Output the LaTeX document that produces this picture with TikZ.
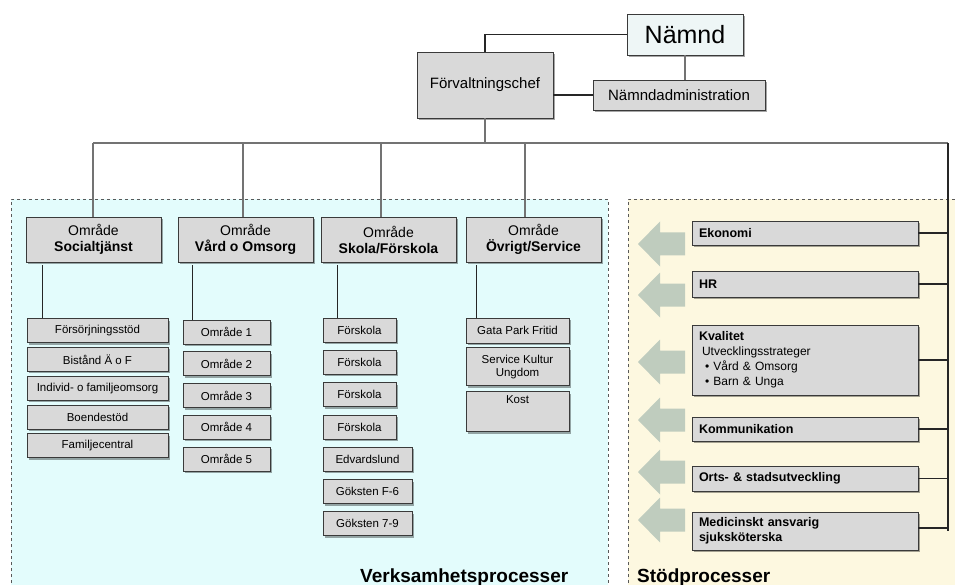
\documentclass[tikz,border=0pt]{standalone}
\usepackage{fontspec}
\setmainfont{Liberation Sans}
\usetikzlibrary{positioning,shadows}

\definecolor{boxgray}{HTML}{D9D9D9}
\definecolor{boxline}{HTML}{3A3A3A}
\definecolor{topfill}{HTML}{EEF6F6}
\definecolor{cyanbg}{HTML}{E3FCFC}
\definecolor{yellowbg}{HTML}{FDF8E0}
\definecolor{arrowgreen}{HTML}{BFCCBE}

\tikzset{
  box/.style = {draw=boxline, fill=boxgray, line width=0.8pt, inner sep=2pt, align=center,
    drop shadow={shadow xshift=2pt, shadow yshift=-2pt, fill=black, opacity=0.35}},
  area/.style = {box, minimum width=135pt, minimum height=45pt, font=\fontsize{14}{16}\selectfont},
  unit/.style = {box, minimum height=24pt, font=\fontsize{11.5}{13.5}\selectfont},
  support/.style = {box, minimum width=226pt, text width=212pt, align=left,
    font=\fontsize{12.5}{15}\selectfont\bfseries},
  region/.style = {draw=black!65, dashed, line width=0.8pt},
  conn/.style = {draw=black!85, line width=1.2pt},
  bus/.style = {draw=black!55, line width=1.2pt}
}

\begin{document}
\begin{tikzpicture}[x=1pt, y=-1pt]
\useasboundingbox (0,0) rectangle (955,585);

% processes
\fill[cyanbg] (11,199) rectangle (608,595);
\draw[region] (11,595) -- (11,199) -- (608,199) -- (608,595);
\fill[yellowbg] (628,199) rectangle (960,595);
\draw[region] (628,595) -- (628,199) -- (960,199);

% top
\node[box, fill=topfill, minimum width=116pt, minimum height=41pt,
  font=\fontsize{25}{28}\selectfont] (namnd) at (685,34.5) {Nämnd};
\node[box, minimum width=136pt, minimum height=66pt,
  font=\fontsize{15}{17}\selectfont] (chef) at (485,85) {Förvaltningschef};
\node[box, minimum width=172pt, minimum height=30pt,
  font=\fontsize{15}{17}\selectfont] (nadm) at (679,95) {Nämndadministration};

% areas
\node[area] (soc) at (93.5,239.5) {Område\\\textbf{Socialtjänst}};
\node[area] (vard) at (245.5,239.5) {Område\\\textbf{Vård o Omsorg}};
\node[area] (skola) at (388.5,239.5) {Område\\\textbf{Skola/Förskola}};
\node[area] (ovr) at (533.5,239.5) {Område\\\textbf{Övrigt/Service}};

% Socialtjänst
\node[unit, minimum width=141pt] (s1) at (97.5,330.5) {Försörjningsstöd};
\node[unit, minimum width=141pt] (s2) [below=4pt of s1] {Bistånd Ä o F};
\node[unit, minimum width=141pt] (s3) [below=4pt of s2] {Individ- o familjeomsorg};
\node[unit, minimum width=141pt] (s4) [below=4pt of s3] {Boendestöd};
\node[unit, minimum width=141pt] (s5) [below=4pt of s4] {Familjecentral};

% Vård o Omsorg
\node[unit, minimum width=87pt] (v1) at (226.5,332) {Område 1};
\node[unit, minimum width=87pt] (v2) [below=7pt of v1] {Område 2};
\node[unit, minimum width=87pt] (v3) [below=7pt of v2] {Område 3};
\node[unit, minimum width=87pt] (v4) [below=7pt of v3] {Område 4};
\node[unit, minimum width=87pt] (v5) [below=7pt of v4] {Område 5};

% Skola/Förskola
\node[unit, minimum width=73pt] (k1) at (359.5,330) {Förskola};
\node[unit, minimum width=73pt] (k2) [below=7.5pt of k1] {Förskola};
\node[unit, minimum width=73pt] (k3) [below=7.5pt of k2] {Förskola};
\node[unit, minimum width=73pt] (k4) [below=7.5pt of k3] {Förskola};
\node[unit, minimum width=89pt] (k5) [below=7.5pt of k4.south west, anchor=north west] {Edvardslund};
\node[unit, minimum width=89pt] (k6) [below=7.5pt of k5] {Göksten F-6};
\node[unit, minimum width=89pt] (k7) [below=7.5pt of k6] {Göksten 7-9};

% Övrigt/Service
\node[unit, minimum width=103pt, minimum height=25pt] (o1) at (517.5,330.5) {Gata Park Fritid};
\node[unit, minimum width=103pt, minimum height=38pt] (o2) [below=4pt of o1] {Service Kultur\\Ungdom};
\node[unit, minimum width=103pt, minimum height=40pt, text height=8pt, text depth=24pt]
  (o3) [below=5pt of o2] {Kost};

% support
\node[support, minimum height=24pt] (ek) at (805,233) {Ekonomi};
\node[support, minimum height=26pt] (hr) at (805,284) {HR};
\node[support, minimum height=70pt] (kv) at (805,360) {Kvalitet\\
  {\mdseries\fontsize{12}{15}\selectfont\hspace{3pt}Utvecklingsstrateger\\
  \hspace{6pt}• Vård \& Omsorg\\
  \hspace{6pt}• Barn \& Unga}};
\node[support, minimum height=24pt] (kom) at (805,429) {Kommunikation};
\node[support, minimum height=25pt] (orts) at (805,478.5) {Orts- \& stadsutveckling};
\node[support, minimum height=38pt] (med) at (805,531) {Medicinskt ansvarig\\sjuksköterska};

% arrows towards the processes
\foreach \y in {244,295,362,420,472,520}
  \fill[arrowgreen] (638,\y) -- ++(22,-22.5) -- ++(0,11) -- ++(25,0) -- ++(0,23)
    -- ++(-25,0) -- ++(0,11) -- cycle;

\node[font=\fontsize{19}{22}\selectfont\bfseries, anchor=base west, inner sep=0pt]
  (verk) at (360,582) {Verksamhetsprocesser};
\node[font=\fontsize{19}{22}\selectfont\bfseries, anchor=base west, inner sep=0pt]
  (stod) at (637,582) {Stödprocesser};

% connectors
\coordinate (busl) at (93,143);
\coordinate (busr) at (948,143);
\coordinate (b2) at (243,143);
\coordinate (b3) at (381,143);
\coordinate (b4) at (525,143);

\draw[conn] (chef.north) |- (namnd.west);
\draw[bus] (namnd.south) -- (namnd.south |- nadm.north);
\draw[conn] (nadm.west) -- (nadm.west -| chef.east);
\draw[bus] (chef.south) -- (chef.south |- busl);
\draw[bus] (busl) -- (busr);
\draw[bus] (busl) -- (busl |- soc.north);
\draw[bus] (b2) -- (b2 |- vard.north);
\draw[bus] (b3) -- (b3 |- skola.north);
\draw[bus] (b4) -- (b4 |- ovr.north);
\draw[conn] (busr) -- (busr |- med.east);

\draw[conn] ([xshift=17pt, yshift=-3pt]soc.south west) -- ([xshift=17pt]soc.south west |- s1.north);
\draw[conn] ([xshift=15pt, yshift=-3pt]vard.south west) -- ([xshift=15pt]vard.south west |- v1.north);
\draw[conn] ([xshift=17pt, yshift=-3pt]skola.south west) -- ([xshift=17pt]skola.south west |- k1.north);
\draw[conn] ([xshift=11pt, yshift=-3pt]ovr.south west) -- ([xshift=11pt]ovr.south west |- o1.north);

\draw[conn] (ek.east) -- (ek.east -| busr);
\draw[conn] (hr.east) -- (hr.east -| busr);
\draw[conn] (kv.east) -- (kv.east -| busr);
\draw[conn] (kom.east) -- (kom.east -| busr);
\draw[conn] (orts.east) -- (orts.east -| busr);
\draw[conn] ([yshift=3pt]med.east) -- ([yshift=3pt]med.east -| busr);
\end{tikzpicture}
\end{document}
